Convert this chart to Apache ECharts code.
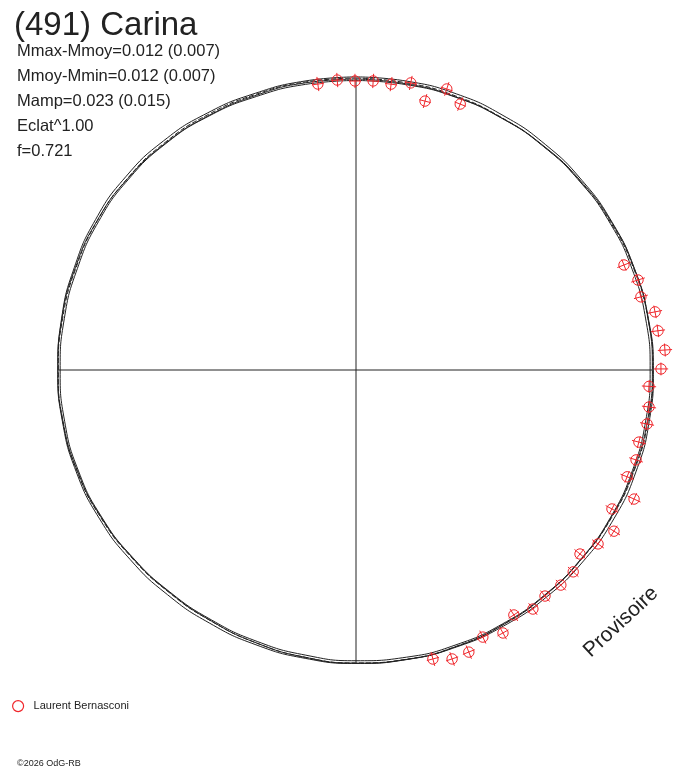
<!DOCTYPE html>
<html>
<head>
<meta charset="utf-8">
<script src="https://cdn.jsdelivr.net/npm/echarts@6.0.0/dist/echarts.min.js"></script>
<style>
html,body{margin:0;padding:0;background:#fff;}
#chart{width:688px;height:768px;}
</style>
</head>
<body>
<div id="chart"></div>
<script>
// ---- Data ----
const TITLE = '(491) Carina';
const INFO_LINES = ['Mmax-Mmoy=0.012 (0.007)', 'Mmoy-Mmin=0.012 (0.007)', 'Mamp=0.023 (0.015)', 'Eclat^1.00', 'f=0.721'];
const OBSERVER = 'Laurent Bernasconi';
const COPYRIGHT = '\u00a92026 OdG-RB';
const STAMP = 'Provisoire';

// model curve phase angles (degrees, 0 = top, clockwise)
const MODEL_PHASE = [0,10,20,30,40,50,60,70,80,90,100,110,120,130,140,150,160,170,180,190,200,210,220,230,240,250,260,270,280,290,300,310,320,330,340,350];
// model curves: relative magnitude (brighter = negative = farther from centre)
const MODEL_1 = [0.004,0.003,0.000,-0.001,-0.004,-0.007,-0.011,-0.015,-0.018,-0.021,-0.023,-0.024,-0.023,-0.019,-0.015,-0.010,-0.005,-0.001,0.002,0.006,0.008,0.008,0.003,-0.006,-0.016,-0.023,-0.025,-0.026,-0.030,-0.035,-0.041,-0.040,-0.032,-0.018,-0.004,0.002];
const MODEL_2 = [0.025,0.024,0.020,0.017,0.012,0.007,0.002,-0.001,-0.002,-0.002,-0.002,-0.002,-0.002,0.000,0.001,0.004,0.008,0.013,0.018,0.025,0.029,0.030,0.024,0.013,0.000,-0.009,-0.012,-0.012,-0.014,-0.016,-0.020,-0.018,-0.011,0.002,0.016,0.022];
const MODEL_3 = [0.017,0.019,0.018,0.016,0.009,0.001,-0.008,-0.014,-0.016,-0.015,-0.012,-0.008,-0.005,-0.002,-0.002,-0.002,-0.002,0.000,0.004,0.012,0.019,0.024,0.021,0.011,-0.003,-0.015,-0.022,-0.025,-0.028,-0.029,-0.030,-0.024,-0.014,-0.001,0.009,0.013];
const MODEL_4 = [0.011,0.013,0.013,0.014,0.011,0.005,-0.003,-0.011,-0.016,-0.018,-0.016,-0.012,-0.008,-0.003,-0.001,-0.001,-0.001,0.001,0.005,0.012,0.019,0.023,0.019,0.008,-0.006,-0.017,-0.022,-0.023,-0.024,-0.025,-0.028,-0.026,-0.019,-0.008,0.003,0.008];

// observations (Laurent Bernasconi): phase angle (deg) and relative magnitude
const OBS_PHASE = [352.4, 356.3, 359.8, 3.4, 7.0, 10.8, 14.4, 17.9, 21.4, 68.6, 72.3, 75.6, 79.0, 82.6, 86.3, 89.8, 93.2, 97.2, 100.5, 104.3, 107.8, 111.5, 114.9, 118.5, 122.0, 125.7, 129.4, 132.9, 136.4, 140.1, 143.5, 147.2, 150.8, 154.6, 158.2, 161.6, 165.1];
const OBS_MAG = [0.031, 0.019, 0.028, 0.025, 0.034, 0.009, 0.095, -0.009, 0.048, 0.035, -0.013, -0.002, -0.064, -0.063, -0.093, -0.066, 0.002, -0.009, -0.013, 0.011, -0.002, 0.014, -0.075, 0.015, -0.061, -0.025, 0.023, -0.016, -0.019, -0.005, -0.021, 0.014, -0.044, -0.011, -0.059, -0.063, -0.031];
const OBS_MAG_ERR = OBS_PHASE.map(() => 0.042);
const OBS_PHASE_ERR = OBS_PHASE.map(() => 1.2);

// ---- Chart ----
const RMIN = -0.12, RMAX = 1.728;
const INK = '#222222', RED = '#f0262b';
const FONT = 'Liberation Sans, Arial, sans-serif';

function closedCurve(vals) {
  const d = MODEL_PHASE.map((p, i) => [vals[i], p]);
  d.push([vals[0], 360]);
  return d;
}
function meanAt(idx) {
  return (MODEL_1[idx] + MODEL_2[idx] + MODEL_3[idx] + MODEL_4[idx]) / 4;
}
const iTop = MODEL_PHASE.indexOf(0), iRight = MODEL_PHASE.indexOf(90),
      iBottom = MODEL_PHASE.indexOf(180), iLeft = MODEL_PHASE.indexOf(270);

const chart = echarts.init(document.getElementById('chart'), null, {renderer: 'canvas'});

const curveSeries = [MODEL_1, MODEL_2, MODEL_3, MODEL_4].map((vals, k) => ({
  type: 'line',
  coordinateSystem: 'polar',
  data: closedCurve(vals),
  smooth: true,
  symbol: 'none',
  silent: true,
  lineStyle: {color: INK, width: 1, type: k === 3 ? [5, 2] : 'solid'},
  z: 2
}));

const option = {
  animation: false,
  backgroundColor: '#fff',
  title: {
    text: TITLE,
    left: 9, top: 4,
    textStyle: {fontFamily: FONT, fontSize: 33, fontWeight: 'normal', color: INK}
  },
  legend: {
    left: 7, top: 695,
    itemWidth: 11, itemHeight: 11,
    data: [{name: OBSERVER, icon: 'circle'}],
    itemStyle: {color: 'rgba(255,255,255,0)', borderColor: RED, borderWidth: 1.2},
    textStyle: {fontFamily: FONT, fontSize: 11, color: INK, padding: [0, 0, 0, 5]}
  },
  polar: {center: [356, 370], radius: 314.2},
  angleAxis: {
    type: 'value', min: 0, max: 360, startAngle: 90, clockwise: true,
    axisLine: {show: false}, axisTick: {show: false}, axisLabel: {show: false}, splitLine: {show: false}
  },
  radiusAxis: {
    type: 'value', min: RMIN, max: RMAX, inverse: true,
    axisLine: {show: false}, axisTick: {show: false}, axisLabel: {show: false}, splitLine: {show: false}
  },
  graphic: [
    ...INFO_LINES.map((t, i) => ({
      type: 'text', left: 17, top: 43 + i * 25,
      style: {text: t, fontFamily: FONT, fontSize: 16.5, fill: INK}
    })),
    {
      type: 'text', left: 17, top: 759,
      style: {text: COPYRIGHT, fontFamily: FONT, fontSize: 9, fill: INK}
    },
    {
      type: 'text', x: 621, y: 622, rotation: 42.8 * Math.PI / 180,
      style: {text: STAMP, fontFamily: FONT, fontSize: 21, fill: INK,
              align: 'center', verticalAlign: 'middle'}
    }
  ],
  series: [
    {
      type: 'line', coordinateSystem: 'polar', silent: true, symbol: 'none',
      data: [[meanAt(iTop), 0], [RMAX, 0], [meanAt(iBottom), 180]],
      lineStyle: {color: INK, width: 1}, z: 1
    },
    {
      type: 'line', coordinateSystem: 'polar', silent: true, symbol: 'none',
      data: [[meanAt(iRight), 90], [RMAX, 90], [meanAt(iLeft), 270]],
      lineStyle: {color: INK, width: 1}, z: 1
    },
    ...curveSeries,
    {
      name: OBSERVER,
      type: 'custom',
      coordinateSystem: 'polar',
      itemStyle: {color: RED, borderColor: RED},
      encode: {radius: 0, angle: 1},
      data: OBS_PHASE.map((p, i) => [OBS_MAG[i], p, OBS_MAG_ERR[i], OBS_PHASE_ERR[i]]),
      z: 5,
      renderItem: function (params, api) {
        const m = api.value(0), a = api.value(1), e = api.value(2), d = api.value(3);
        const c = api.coord([m, a]);
        const r1 = api.coord([m - e, a]), r2 = api.coord([m + e, a]);
        const t1 = api.coord([m, a - d]), t2 = api.coord([m, a + d]);
        const st = {stroke: RED, lineWidth: 1, fill: null};
        return {
          type: 'group',
          children: [
            {type: 'line', shape: {x1: r1[0], y1: r1[1], x2: r2[0], y2: r2[1]}, style: st},
            {type: 'line', shape: {x1: t1[0], y1: t1[1], x2: t2[0], y2: t2[1]}, style: st},
            {type: 'circle', shape: {cx: c[0], cy: c[1], r: 5.2}, style: {stroke: RED, lineWidth: 1, fill: 'none'}}
          ]
        };
      }
    }
  ]
};
chart.setOption(option);
</script>
</body>
</html>
